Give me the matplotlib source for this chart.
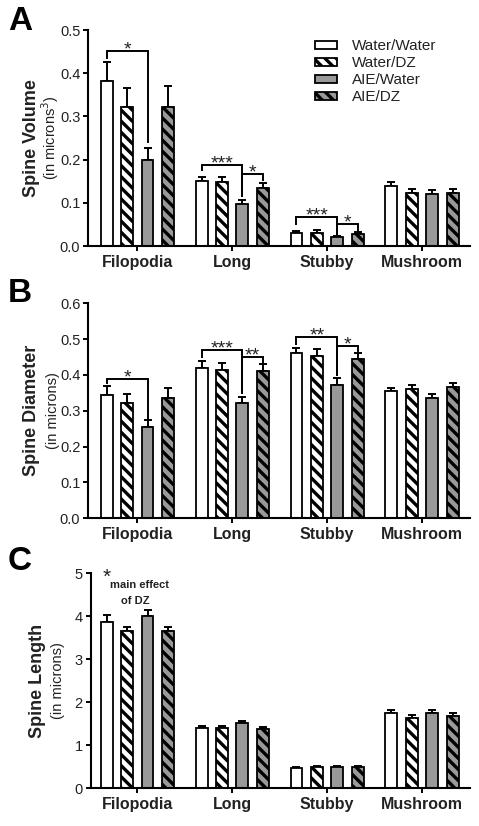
import numpy as np
import matplotlib
matplotlib.use("Agg")
from matplotlib import pyplot as plt

plt.rcParams['font.family'] = ['Liberation Sans', 'DejaVu Sans']
plt.rcParams['hatch.linewidth'] = 2.4

categories = ['Filopodia', 'Long', 'Stubby', 'Mushroom']
groups = ['Water/Water', 'Water/DZ', 'AIE/Water', 'AIE/DZ']

# spine volume (microns^3), rows = groups, cols = categories
volume_mean = [[0.381, 0.150, 0.031, 0.140],
               [0.322, 0.148, 0.031, 0.123],
               [0.198, 0.098, 0.020, 0.120],
               [0.322, 0.134, 0.028, 0.123]]
volume_sem = [[0.046, 0.009, 0.004, 0.009],
              [0.043, 0.011, 0.005, 0.008],
              [0.028, 0.009, 0.004, 0.010],
              [0.049, 0.011, 0.004, 0.009]]

diameter_mean = [[0.345, 0.420, 0.461, 0.355],
                 [0.323, 0.415, 0.454, 0.360],
                 [0.256, 0.322, 0.372, 0.336],
                 [0.335, 0.412, 0.444, 0.366]]
diameter_sem = [[0.023, 0.018, 0.015, 0.010],
                [0.024, 0.019, 0.018, 0.011],
                [0.018, 0.017, 0.020, 0.012],
                [0.028, 0.019, 0.018, 0.012]]

length_mean = [[3.87, 1.41, 0.47, 1.75],
               [3.65, 1.40, 0.50, 1.64],
               [4.00, 1.51, 0.50, 1.75],
               [3.65, 1.39, 0.50, 1.69]]
length_sem = [[0.16, 0.04, 0.03, 0.07],
              [0.10, 0.04, 0.03, 0.06],
              [0.15, 0.05, 0.02, 0.07],
              [0.10, 0.04, 0.02, 0.07]]

# significance brackets: (category, bar_a, bar_b, label, y_top, y_left_end, y_right_end)
volume_sig = [(0, 0, 2, '*', 0.452, 0.435, 0.240),
              (1, 0, 2, '***', 0.1875, 0.175, 0.115),
              (1, 2, 3, '*', 0.167, 0.115, 0.152),
              (2, 0, 2, '***', 0.067, 0.050, 0.027),
              (2, 2, 3, '*', 0.051, 0.027, 0.038)]
diameter_sig = [(0, 0, 2, '*', 0.388, 0.378, 0.280),
                (1, 0, 2, '***', 0.470, 0.450, 0.350),
                (1, 2, 3, '**', 0.451, 0.350, 0.437),
                (2, 0, 2, '**', 0.506, 0.487, 0.400),
                (2, 2, 3, '*', 0.481, 0.400, 0.466)]

faces = ['white', 'white', '#999999', '#999999']
hatches = [None, '\\\\\\', None, '\\\\\\']
txt = '#222222'

W, H = 479, 826
fig = plt.figure(figsize=(W / 100, H / 100), dpi=100)

g0_px, gstep_px, right_px = 137.3, 94.9, 470
bar_step, bar_w = 0.215, 0.125


def bar_x(g, i):
    return g + (i - 1.5) * bar_step


def panel(left_px, top_px, bottom_px, means, sems, ymax, ystep, fmt,
          label, sublabel, letter, letter_y, lab_px, sub_px, sig=()):
    ax = fig.add_axes([left_px / W, 1 - bottom_px / H,
                       (right_px - left_px) / W, (bottom_px - top_px) / H])
    x = np.arange(len(categories))
    for i in range(4):
        m = np.array(means[i])
        e = np.array(sems[i])
        ax.bar(x + (i - 1.5) * bar_step, m, bar_w, color=faces[i],
               edgecolor='black', linewidth=1.3, hatch=hatches[i],
               label=groups[i], zorder=2,
               yerr=[np.zeros_like(e), e], capsize=2.6,
               error_kw=dict(elinewidth=1.4, capthick=1.4, ecolor='black', zorder=1))
    ax.set_xlim((left_px - g0_px) / gstep_px, (right_px - g0_px) / gstep_px)
    ax.set_ylim(0, ymax)
    ax.set_yticks(np.arange(0, ymax + ystep / 2, ystep))
    ax.yaxis.set_major_formatter(plt.FormatStrFormatter(fmt))
    ax.set_xticks(x)
    ax.set_xticklabels(categories, fontsize=11.5, fontweight='bold', color=txt)
    for s in ['top', 'right']:
        ax.spines[s].set_visible(False)
    for s in ['left', 'bottom']:
        ax.spines[s].set_linewidth(1.5)
    ax.tick_params(axis='y', length=3.5, width=1.4, labelsize=10.5, labelcolor=txt, pad=2)
    ax.tick_params(axis='x', length=3.5, width=1.4, pad=3)
    aw = right_px - left_px
    ax.text((lab_px - left_px) / aw, 0.5, label, transform=ax.transAxes, rotation=90,
            ha='center', va='center', fontsize=13, fontweight='bold', color=txt)
    ax.text((sub_px - left_px) / aw, 0.5, sublabel, transform=ax.transAxes, rotation=90,
            ha='center', va='center', fontsize=10.5, color=txt)
    fig.text(8 / W, 1 - letter_y / H, letter, fontsize=24, fontweight='bold',
             ha='left', va='center')
    for g, a, b, lab, yt, yl, yr in sig:
        xa, xb = bar_x(g, a), bar_x(g, b)
        ax.plot([xa, xa, xb, xb], [yl, yt, yt, yr], color='black', lw=1.4,
                zorder=3, solid_joinstyle='miter')
        ax.annotate(lab, xy=((xa + xb) / 2, yt), xytext=(0, -2.5),
                    textcoords='offset points', ha='center', va='baseline',
                    fontsize=14, color=txt)
    return ax


axA = panel(88, 30, 246, volume_mean, volume_sem, 0.5, 0.1, '%.1f',
            'Spine Volume', '(in microns$^3$)', 'A', 22, 31, 50, volume_sig)
axA.legend(loc='upper left', bbox_to_anchor=((315 - 88) / 382, 0.957), frameon=False,
           fontsize=11, handlelength=1.45, handleheight=0.4, handletextpad=1.0,
           labelspacing=0.2, borderpad=0, borderaxespad=0, labelcolor=txt)

axB = panel(88, 303.3, 518.3, diameter_mean, diameter_sem, 0.6, 0.1, '%.1f',
            'Spine Diameter', '(in microns)', 'B', 293, 31, 53, diameter_sig)

axC = panel(90.5, 573.3, 788.3, length_mean, length_sem, 5, 1, '%d',
            'Spine Length', '(in microns)', 'C', 561, 38, 58)
axC.text(bar_x(0, 0), 4.9, '*', ha='center', va='center', fontsize=15, color=txt)
axC.text(0.02, 4.73, 'main effect', ha='center', va='center', fontsize=8,
         fontweight='bold', color=txt)
axC.text(-0.02, 4.36, 'of DZ', ha='center', va='center', fontsize=8,
         fontweight='bold', color=txt)

fig.savefig('out.png', dpi=100)
